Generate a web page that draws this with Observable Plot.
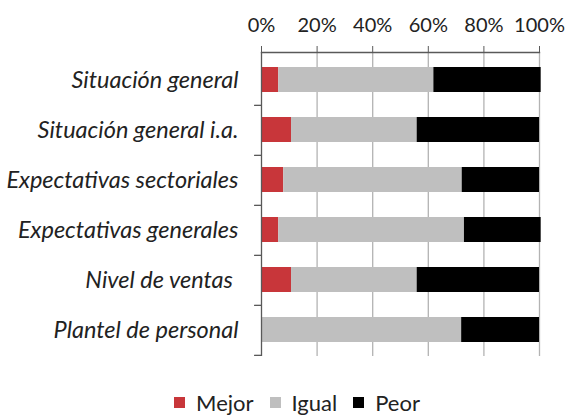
<!DOCTYPE html>
<html><head><meta charset="utf-8">
<script src="https://cdn.jsdelivr.net/npm/d3@7"></script>
<script src="https://cdn.jsdelivr.net/npm/@observablehq/plot@0.6"></script>
<style>
body{margin:0;background:#fff;font-family:Lato,sans-serif;}
#legend{display:flex;justify-content:center;margin-top:10px;padding-left:26px;}
#legend span{margin-right:16px !important;}
#legend span:last-child{margin-right:0 !important;}
</style></head><body><div id="chart"></div><div id="legend"></div>
<script>
const categories = ["Situación general","Situación general i.a.","Expectativas sectoriales","Expectativas generales","Nivel de ventas\u00a0","Plantel de personal"];
const series = ["Mejor","Igual","Peor"];
const mejor = [6.2, 10.8, 8, 6.2, 10.8, 0];
const igual = [55.8, 45.2, 64.2, 66.8, 45.2, 72];
const peor  = [38.6, 44, 27.8, 27.6, 44, 28];
const xTicks = [0, 20, 40, 60, 80, 100];
const colors = ["#C8363A", "#BFBFBF", "#000000"];

const values = {Mejor: mejor, Igual: igual, Peor: peor};
const data = [];
categories.forEach((c, i) => series.forEach(s => data.push({category: c, series: s, value: values[s][i]})));

const W = 568, H = 376, mt = 52, mb = 20, ml = 261, mr = 29;
const step = (H - mt - mb) / categories.length;

const chart = Plot.plot({
  width: W, height: H, marginTop: mt, marginBottom: mb, marginLeft: ml, marginRight: mr,
  style: {fontFamily: "Lato, sans-serif", fontSize: "20px", color: "#222", background: "#fff", overflow: "visible"},
  x: {domain: [0, 100], label: null},
  y: {domain: categories, paddingInner: 0.5, paddingOuter: 0.25, label: null},
  color: {domain: series, range: colors},
  marks: [
    Plot.ruleX(xTicks.slice(1), {stroke: "#B3B3B3", strokeWidth: 1.3}),
    Plot.barX(data, Plot.stackX({x: "value", y: "category", fill: "series", order: series})),
    Plot.ruleX([0], {stroke: "#595959", strokeWidth: 1.3}),
    Plot.frame({anchor: "top", stroke: "#595959", strokeWidth: 1.3}),
    Plot.ruleY(categories, {y: d => d, x1: -2.5, x2: 0, dy: step / 2, stroke: "#595959", strokeWidth: 1.3}),
    Plot.axisX(xTicks, {anchor: "top", label: null, tickSize: 7, tickPadding: 14, tickFormat: d => d + "%", stroke: "#595959", fontSize: 20}),
    Plot.axisY({label: null, tickSize: 0, tickPadding: 23, fontStyle: "italic", fontSize: 23.5})
  ]
});
document.getElementById("chart").append(chart);

const legend = Plot.legend({color: {domain: series, range: colors}, legend: "swatches", swatchSize: 11,
  style: {fontFamily: "Lato, sans-serif", fontSize: "22px", color: "#222"}});
document.getElementById("legend").append(legend);
</script></body></html>
